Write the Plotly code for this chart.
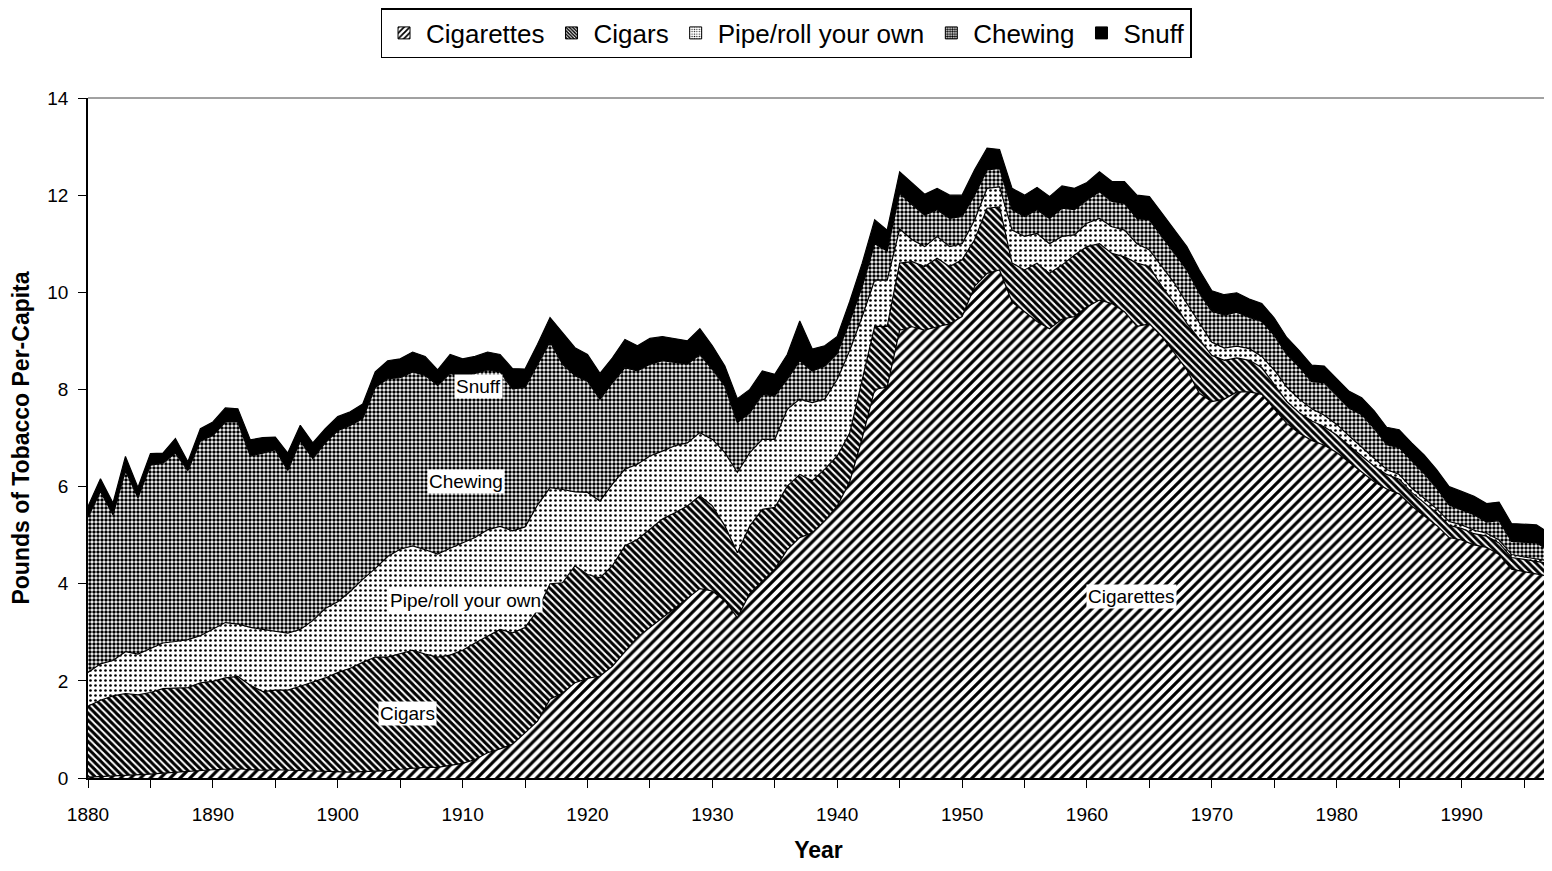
import plotly.graph_objects as go

years = list(range(1880, 1998))

cigarettes = [
    0.02, 0.03, 0.04, 0.05, 0.07, 0.08, 0.10, 0.12, 0.13, 0.15,
    0.17, 0.18, 0.19, 0.17, 0.16, 0.17, 0.16, 0.15, 0.14, 0.13,
    0.12, 0.12, 0.13, 0.14, 0.15, 0.18, 0.20, 0.22, 0.22, 0.26,
    0.30, 0.38, 0.52, 0.60, 0.70, 0.93, 1.17, 1.62, 1.75, 1.96,
    2.05, 2.10, 2.30, 2.60, 2.90, 3.10, 3.30, 3.50, 3.70, 3.90,
    3.85, 3.65, 3.30, 3.80, 4.05, 4.30, 4.70, 4.95, 5.05, 5.30,
    5.60, 6.10, 7.00, 8.00, 8.05, 9.22, 9.29, 9.22, 9.29, 9.35,
    9.50, 10.12, 10.39, 10.46, 9.80, 9.60, 9.40, 9.25, 9.45, 9.50,
    9.70, 9.84, 9.77, 9.60, 9.30, 9.35, 9.09, 8.75, 8.40, 7.92,
    7.75, 7.80, 7.95, 7.95, 7.90, 7.60, 7.30, 7.10, 6.95, 6.85,
    6.70, 6.50, 6.30, 6.10, 5.95, 5.85, 5.60, 5.40, 5.20, 4.95,
    4.90, 4.80, 4.75, 4.60, 4.30, 4.25, 4.20, 4.15,
]

cigars = [
    1.46, 1.57, 1.65, 1.69, 1.64, 1.68, 1.74, 1.73, 1.73, 1.81,
    1.82, 1.88, 1.90, 1.74, 1.62, 1.64, 1.65, 1.74, 1.84, 1.93,
    2.05, 2.14, 2.25, 2.35, 2.34, 2.38, 2.43, 2.33, 2.27, 2.27,
    2.33, 2.40, 2.40, 2.46, 2.29, 2.17, 2.28, 2.38, 2.27, 2.41,
    2.14, 2.02, 2.07, 2.18, 2.01, 2.02, 2.03, 1.96, 1.90, 1.91,
    1.75, 1.54, 1.34, 1.39, 1.48, 1.27, 1.31, 1.30, 1.07, 1.06,
    1.03, 1.00, 1.20, 1.30, 1.25, 1.38, 1.34, 1.31, 1.41, 1.18,
    1.17, 0.96, 1.34, 1.30, 0.80, 0.86, 1.20, 1.14, 1.11, 1.27,
    1.24, 1.16, 1.03, 1.13, 1.30, 1.18, 1.03, 1.02, 0.96, 1.10,
    0.95, 0.80, 0.70, 0.65, 0.55, 0.50, 0.45, 0.42, 0.40, 0.38,
    0.36, 0.34, 0.33, 0.32, 0.30, 0.30, 0.28, 0.27, 0.26, 0.25,
    0.24, 0.23, 0.23, 0.24, 0.24, 0.25, 0.26, 0.27,
]

pipe = [
    0.69, 0.75, 0.73, 0.86, 0.84, 0.91, 0.94, 0.96, 0.99, 0.97,
    1.08, 1.14, 1.08, 1.19, 1.28, 1.21, 1.17, 1.17, 1.26, 1.43,
    1.46, 1.58, 1.71, 1.82, 2.07, 2.15, 2.15, 2.15, 2.12, 2.20,
    2.21, 2.17, 2.19, 2.12, 2.10, 2.07, 2.17, 1.98, 1.92, 1.52,
    1.69, 1.58, 1.68, 1.58, 1.55, 1.51, 1.40, 1.38, 1.30, 1.30,
    1.37, 1.51, 1.65, 1.51, 1.44, 1.40, 1.58, 1.55, 1.61, 1.44,
    1.58, 1.70, 1.30, 0.95, 0.95, 0.70, 0.45, 0.41, 0.45, 0.41,
    0.33, 0.41, 0.41, 0.41, 0.68, 0.69, 0.61, 0.61, 0.59, 0.41,
    0.48, 0.52, 0.55, 0.55, 0.40, 0.34, 0.41, 0.42, 0.41, 0.34,
    0.27, 0.25, 0.24, 0.24, 0.23, 0.30, 0.30, 0.28, 0.25, 0.24,
    0.22, 0.20, 0.18, 0.16, 0.10, 0.10, 0.09, 0.09, 0.08, 0.08,
    0.07, 0.07, 0.06, 0.06, 0.06, 0.05, 0.05, 0.05,
]

chewing = [
    3.20, 3.55, 3.00, 3.73, 3.22, 3.77, 3.70, 3.88, 3.48, 4.01,
    3.98, 4.13, 4.16, 3.53, 3.63, 3.74, 3.35, 3.88, 3.34, 3.41,
    3.52, 3.42, 3.31, 3.73, 3.66, 3.53, 3.58, 3.59, 3.47, 3.60,
    3.42, 3.38, 3.29, 3.18, 2.92, 2.87, 2.89, 3.00, 2.58, 2.39,
    2.29, 2.10, 2.09, 2.09, 1.92, 1.89, 1.86, 1.71, 1.62, 1.61,
    1.44, 1.37, 1.03, 0.82, 0.93, 0.90, 0.62, 0.79, 0.65, 0.68,
    0.53, 0.60, 0.62, 0.75, 0.60, 0.74, 0.72, 0.65, 0.55, 0.58,
    0.56, 0.51, 0.38, 0.38, 0.42, 0.41, 0.49, 0.52, 0.58, 0.52,
    0.48, 0.55, 0.52, 0.55, 0.52, 0.62, 0.62, 0.61, 0.69, 0.62,
    0.64, 0.68, 0.70, 0.64, 0.72, 0.71, 0.67, 0.66, 0.56, 0.67,
    0.60, 0.57, 0.67, 0.62, 0.51, 0.55, 0.56, 0.51, 0.43, 0.34,
    0.31, 0.32, 0.23, 0.40, 0.27, 0.31, 0.33, 0.22,
]

snuff = [
    0.22, 0.26, 0.24, 0.29, 0.21, 0.24, 0.21, 0.30, 0.18, 0.25,
    0.28, 0.29, 0.27, 0.33, 0.32, 0.26, 0.36, 0.32, 0.32, 0.29,
    0.29, 0.28, 0.30, 0.32, 0.37, 0.39, 0.41, 0.39, 0.32, 0.39,
    0.37, 0.35, 0.37, 0.36, 0.42, 0.38, 0.42, 0.50, 0.65, 0.58,
    0.55, 0.53, 0.51, 0.58, 0.52, 0.53, 0.50, 0.50, 0.48, 0.53,
    0.49, 0.41, 0.49, 0.48, 0.48, 0.44, 0.51, 0.82, 0.45, 0.42,
    0.35, 0.41, 0.48, 0.49, 0.43, 0.44, 0.44, 0.43, 0.44, 0.48,
    0.44, 0.52, 0.45, 0.39, 0.44, 0.44, 0.46, 0.45, 0.46, 0.44,
    0.36, 0.41, 0.41, 0.45, 0.48, 0.48, 0.48, 0.48, 0.48, 0.48,
    0.42, 0.42, 0.40, 0.38, 0.37, 0.36, 0.35, 0.34, 0.34, 0.34,
    0.34, 0.35, 0.35, 0.36, 0.36, 0.37, 0.37, 0.38, 0.38, 0.38,
    0.38, 0.38, 0.38, 0.38, 0.37, 0.37, 0.37, 0.36,
]

series_names = ["Cigarettes", "Cigars", "Pipe/roll your own", "Chewing", "Snuff"]
series_values = [cigarettes, cigars, pipe, chewing, snuff]

tick_years = list(range(1880, 1996, 5))
tick_labels = [str(y) if y % 10 == 0 else "" for y in tick_years]

# in-chart labels: (text, year, value)
label_text = ["Snuff", "Chewing", "Pipe/roll your own", "Cigars", "Cigarettes"]
label_x = [1911.3, 1910.3, 1910.2, 1905.6, 1963.6]
label_y = [8.07, 6.11, 3.66, 1.32, 3.73]

styles = {
    "Cigarettes": dict(shape="/", size=7, solidity=0.45, fgcolor="black", bgcolor="white"),
    "Cigars": dict(shape="\\", size=5, solidity=0.6, fgcolor="black", bgcolor="white"),
    "Pipe/roll your own": dict(shape=".", size=5, solidity=0.22, fgcolor="black", bgcolor="white"),
    "Chewing": dict(shape=".", size=4, solidity=0.6, fgcolor="black", bgcolor="white"),
}

FONT = "Liberation Sans, Arial, Helvetica, sans-serif"

fig = go.Figure()
for name, vals in zip(series_names, series_values):
    kw = dict(
        x=years, y=vals, name=name, mode="lines", stackgroup="one",
        line=dict(color="black", width=1.2), showlegend=False,
    )
    if name == "Snuff":
        kw["fillcolor"] = "black"
    else:
        kw["fillcolor"] = "white"
        kw["fillpattern"] = dict(fillmode="replace", **styles[name])
    fig.add_trace(go.Scatter(**kw))

# legend swatches (square pattern keys, no data drawn)
for name in series_names:
    if name == "Snuff":
        marker = dict(color="black", line=dict(color="black", width=1))
    else:
        st = styles[name]
        marker = dict(color="white", line=dict(color="black", width=1),
                      pattern=dict(shape=st["shape"], size=max(3, st["size"] - 2),
                                   solidity=st["solidity"], fgcolor="black",
                                   bgcolor="white", fillmode="replace"))
    fig.add_trace(go.Bar(x=[None], y=[None], name=name, marker=marker, showlegend=True))

for t, xv, yv in zip(label_text, label_x, label_y):
    fig.add_annotation(x=xv, y=yv, text=t, showarrow=False, bgcolor="white",
                       font=dict(family=FONT, size=19, color="black"), borderpad=1)

fig.add_shape(type="line", xref="paper", yref="paper", x0=0, x1=1, y0=1, y1=1,
              line=dict(color="#444", width=1))
fig.add_shape(type="line", xref="paper", yref="paper", x0=1, x1=1, y0=0, y1=1,
              line=dict(color="#444", width=1))

fig.update_layout(
    width=1544, height=855,
    margin=dict(l=80, r=3, t=90, b=85, autoexpand=False),
    paper_bgcolor="white", plot_bgcolor="white",
    font=dict(family=FONT, color="black"),
    showlegend=True,
    legend=dict(
        orientation="h", traceorder="normal",
        xref="container", yref="container",
        x=0.5039, xanchor="center", y=1.0, yanchor="top",
        bordercolor="black", borderwidth=1.5, bgcolor="white",
        font=dict(family=FONT, size=26, color="black"),
        itemwidth=34,
    ),
    xaxis=dict(
        range=[1880, 1997], tickmode="array", tickvals=tick_years, ticktext=tick_labels,
        ticks="outside", ticklen=8, tickcolor="black", showline=True, linecolor="black",
        linewidth=1.5, showgrid=False, zeroline=False, automargin=False,
        tickfont=dict(family=FONT, size=19, color="black"), ticklabelstandoff=10,
        title=dict(text="<b>Year</b>", font=dict(family=FONT, size=23, color="black"), standoff=29),
    ),
    yaxis=dict(
        range=[0, 14], dtick=2, ticks="outside", ticklen=8, tickcolor="black",
        showline=True, linecolor="black", linewidth=1.5, showgrid=False, zeroline=False,
        automargin=False,
        tickfont=dict(family=FONT, size=19, color="black"), ticklabelstandoff=6,
        title=dict(text="<b>Pounds of Tobacco Per-Capita</b>", font=dict(family=FONT, size=23, color="black"), standoff=12),
    ),
)

fig.write_html("out.html")
